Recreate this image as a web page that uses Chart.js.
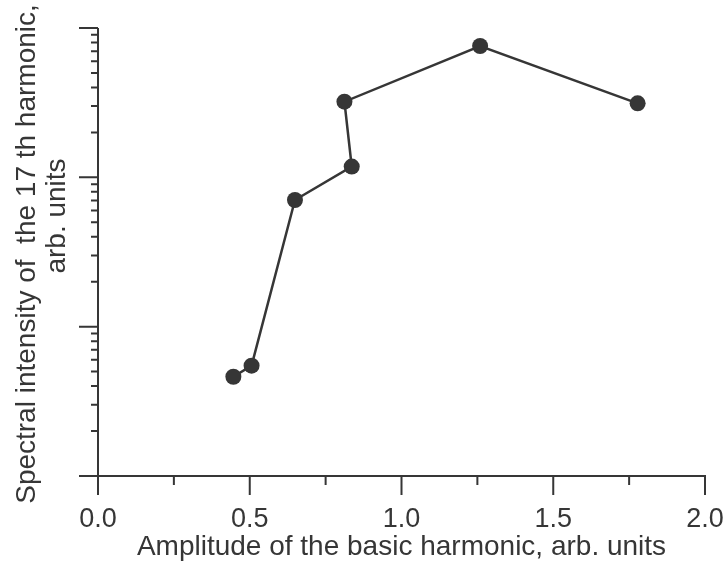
<!DOCTYPE html>
<html>
<head>
<meta charset="utf-8">
<script src="https://cdn.jsdelivr.net/npm/chart.js@4/dist/chart.umd.min.js"></script>
<style>
  html, body { margin: 0; padding: 0; background: #ffffff; }
  canvas { display: block; }
</style>
</head>
<body>
<canvas id="c" width="723" height="564"></canvas>
<script>
// Amplitude of the basic harmonic (arb. units)
const amplitude = [0.446, 0.506, 0.649, 0.836, 0.812, 1.259, 1.778];
// Spectral intensity of the 17th harmonic (arb. units, log scale)
const intensity = [4.62, 5.48, 70.5, 118, 321, 758, 313];

// Axis tick positions
const xMajorTicks = [0, 0.5, 1.0, 1.5, 2.0];
const xMinorTicks = [0.25, 0.75, 1.25, 1.75];
const yDecades = [1, 10, 100, 1000];
const yMinorMultipliers = [2, 3, 4, 5, 6, 7, 8, 9];

const xTitle = 'Amplitude of the basic harmonic, arb. units';
const yTitleLines = ['Spectral intensity of  the 17 th harmonic,', 'arb. units'];

const INK = '#363636';
const FONT = '"Liberation Sans", Arial, Helvetica, sans-serif';

// Hand-drawn style axes: outward ticks, long majors and short minors
const axesPlugin = {
  id: 'axesPlugin',
  beforeDatasetsDraw(chart) {
    const ctx = chart.ctx;
    const xs = chart.scales.x, ys = chart.scales.y;
    const x0 = xs.getPixelForValue(0), x2 = xs.getPixelForValue(2);
    const yBot = ys.getPixelForValue(1), yTop = ys.getPixelForValue(1000);
    const major = 19, minorX = 9, minorY = 7;
    ctx.save();
    ctx.strokeStyle = INK;
    ctx.lineWidth = 2;
    ctx.lineCap = 'butt';
    ctx.beginPath();
    // y axis line
    ctx.moveTo(x0, yTop); ctx.lineTo(x0, yBot);
    // x axis line
    ctx.moveTo(x0, yBot); ctx.lineTo(x2 + 1, yBot);
    // x ticks (downward)
    xMajorTicks.forEach(v => {
      const p = xs.getPixelForValue(v);
      ctx.moveTo(p, yBot); ctx.lineTo(p, yBot + major);
    });
    xMinorTicks.forEach(v => {
      const p = xs.getPixelForValue(v);
      ctx.moveTo(p, yBot); ctx.lineTo(p, yBot + minorX);
    });
    // y ticks (leftward)
    yDecades.forEach((d, i) => {
      const p = ys.getPixelForValue(d);
      ctx.moveTo(x0, p); ctx.lineTo(x0 - major, p);
      if (i < yDecades.length - 1) {
        yMinorMultipliers.forEach(m => {
          const q = ys.getPixelForValue(d * m);
          ctx.moveTo(x0, q); ctx.lineTo(x0 - minorY, q);
        });
      }
    });
    ctx.stroke();

    // y axis title, two rotated lines
    const cy = (chart.chartArea.top + chart.chartArea.bottom) / 2;
    ctx.fillStyle = INK;
    ctx.font = '28px ' + FONT;
    ctx.textAlign = 'center';
    ctx.textBaseline = 'alphabetic';
    ctx.translate(35, cy);
    ctx.rotate(-Math.PI / 2);
    ctx.fillText(yTitleLines[0], -2, 0);
    ctx.fillText(yTitleLines[1], 36, 30);
    ctx.restore();
  }
};

new Chart(document.getElementById('c'), {
  type: 'scatter',
  data: {
    datasets: [{
      data: amplitude.map((x, i) => ({ x: x, y: intensity[i] })),
      showLine: true,
      borderColor: INK,
      borderWidth: 2.5,
      backgroundColor: INK,
      pointBackgroundColor: INK,
      pointBorderColor: INK,
      pointBorderWidth: 0,
      pointRadius: 8,
      tension: 0
    }]
  },
  options: {
    responsive: false,
    animation: false,
    events: [],
    layout: { padding: { top: 28, right: 18, left: 0, bottom: 0 } },
    plugins: { legend: { display: false }, tooltip: { enabled: false } },
    scales: {
      x: {
        type: 'linear',
        min: 0,
        max: 2,
        grid: { display: false, drawTicks: false, tickLength: 0 },
        border: { display: false },
        ticks: {
          stepSize: 0.5,
          autoSkip: false,
          maxRotation: 0,
          padding: 27,
          color: INK,
          font: { family: FONT, size: 27 },
          callback: v => Number(v).toFixed(1)
        },
        title: {
          display: true,
          text: xTitle,
          color: INK,
          font: { family: FONT, size: 28 },
          padding: { top: 0, bottom: 0 }
        },
        afterFit: s => { s.height = 88; s.paddingLeft = 0; s.paddingRight = 0; }
      },
      y: {
        type: 'logarithmic',
        min: 1,
        max: 1000,
        grid: { display: false, drawTicks: false, tickLength: 0 },
        border: { display: false },
        ticks: { display: false },
        afterFit: s => { s.width = 98; s.paddingTop = 0; s.paddingBottom = 0; }
      }
    }
  },
  plugins: [axesPlugin]
});
</script>
</body>
</html>
